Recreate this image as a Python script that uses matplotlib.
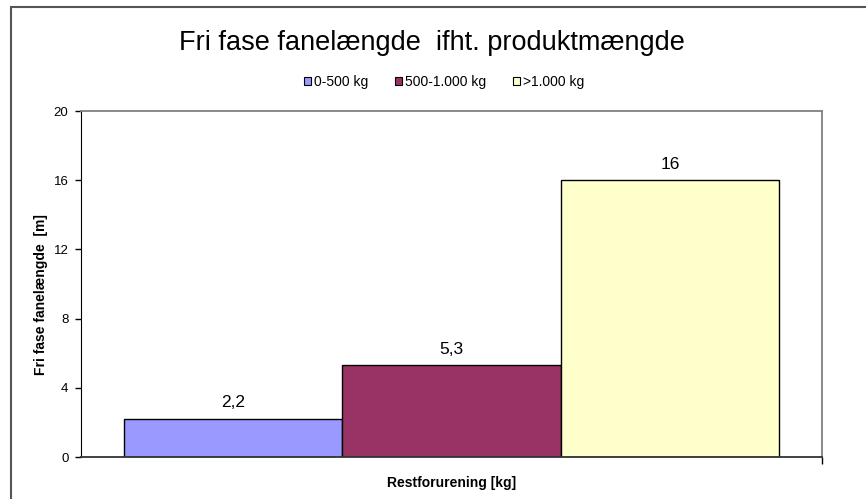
import matplotlib.pyplot as plt
from matplotlib.patches import Patch, Rectangle

plt.rcParams['font.family'] = ['Liberation Sans', 'DejaVu Sans']

categories = ['0-500 kg', '500-1.000 kg', '>1.000 kg']
values = [2.2, 5.3, 16]
colors = ['#9999ff', '#993366', '#ffffcc']
yticks = [0, 4, 8, 12, 16, 20]

W, H = 866, 499
fig = plt.figure(figsize=(W / 100, H / 100), dpi=100)

# outer chart frame (left/top visible, right/bottom run off the image)
fig.patches.append(Rectangle((11 / W, -0.1), 1.2, (H - 7) / H + 0.1,
                             transform=fig.transFigure, fill=False,
                             edgecolor='#555555', linewidth=1.5))

ax = fig.add_axes([81 / W, (H - 457) / H, 741 / W, 346 / H])

x = range(len(values))
bars = ax.bar(x, values, width=1.0, color=colors, edgecolor='black', linewidth=1)
for b, v in zip(bars, values):
    ax.text(b.get_x() + b.get_width() / 2, v + 0.5, f'{v:g}'.replace('.', ','),
            ha='center', va='bottom', fontsize=12.5)

ax.set_xlim(-0.697, 2.697)
ax.set_ylim(0, 20)
ax.set_yticks(yticks)
ax.set_xticks([ax.get_xlim()[1]])
ax.set_xticklabels([''])
ax.tick_params(axis='y', direction='out', length=4, labelsize=9.5, width=1, pad=5)
ax.tick_params(axis='x', direction='out', length=5, width=1)

ax.spines['left'].set_color('black')
ax.spines['bottom'].set_color('#333333')
ax.spines['bottom'].set_linewidth(1.3)
for s in ['top', 'right']:
    ax.spines[s].set_color('#808080')
    ax.spines[s].set_linewidth(1.3)

ax.set_ylabel('Fri fase fanelængde  [m]', fontsize=10, fontweight='bold', va='center')
ax.yaxis.set_label_coords(-40 / 741, 0.47)
ax.set_xlabel('Restforurening [kg]', fontsize=10, fontweight='bold', va='center')
ax.xaxis.set_label_coords(0.5, -26 / 346)

fig.text(432 / W, 1 - 43 / H, 'Fri fase fanelængde  ifht. produktmængde',
         ha='center', va='center', fontsize=19.5)

handles = [Patch(facecolor=c, edgecolor='black', linewidth=0.8) for c in colors]
fig.legend(handles, categories, loc='center', bbox_to_anchor=(444 / W, 1 - 82 / H),
           ncol=3, frameon=False, fontsize=10, handlelength=0.55, handleheight=0.55,
           handletextpad=0.2, columnspacing=1.9)

fig.savefig('out.png', dpi=100)
